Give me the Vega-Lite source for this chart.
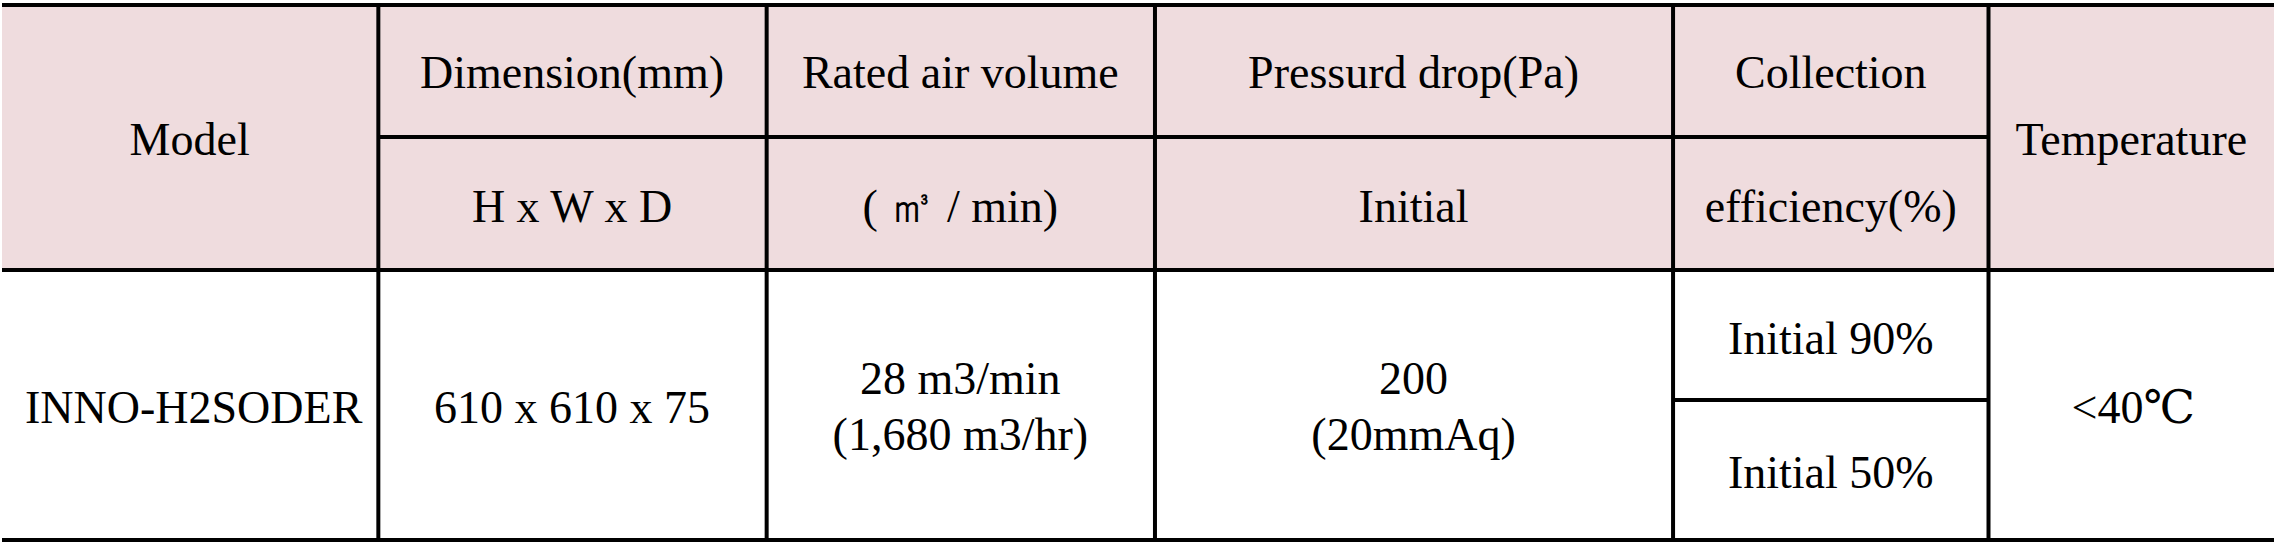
{
  "$schema": "https://vega.github.io/schema/vega-lite/v6.json",
  "width": 2276,
  "height": 548,
  "autosize": {"type": "fit", "contains": "padding"},
  "padding": 0,
  "background": "white",
  "datasets": {
    "cells": [
      {"x0": 0, "x1": 377, "y0": 5, "y1": 270},
      {"x0": 377, "x1": 766, "y0": 5, "y1": 270},
      {"x0": 766, "x1": 1155, "y0": 5, "y1": 270},
      {"x0": 1155, "x1": 1674, "y0": 5, "y1": 270},
      {"x0": 1674, "x1": 1990, "y0": 5, "y1": 270},
      {"x0": 1990, "x1": 2276, "y0": 5, "y1": 270}
    ],
    "labels": [
      {"label": "Model", "x": 188, "y": 141},
      {"label": "Dimension(mm)", "x": 571, "y": 74},
      {"label": "H x W x D", "x": 571, "y": 208},
      {"label": "Rated air volume", "x": 960, "y": 74},
      {"label": "( ㎥ / min)", "x": 960, "y": 208},
      {"label": "Pressurd drop(Pa)", "x": 1414, "y": 74},
      {"label": "Initial", "x": 1414, "y": 208},
      {"label": "Collection", "x": 1832, "y": 74},
      {"label": "efficiency(%)", "x": 1832, "y": 208},
      {"label": "Temperature", "x": 2133, "y": 141},
      {"label": "INNO-H2SODER", "x": 192, "y": 409},
      {"label": "610 x 610 x 75", "x": 571, "y": 409},
      {"label": "28 m3/min", "x": 960, "y": 380},
      {"label": "(1,680 m3/hr)", "x": 960, "y": 436},
      {"label": "200", "x": 1414, "y": 380},
      {"label": "(20mmAq)", "x": 1414, "y": 436},
      {"label": "Initial 90%", "x": 1832, "y": 340},
      {"label": "Initial 50%", "x": 1832, "y": 474},
      {"label": "<40℃", "x": 2135, "y": 409}
    ],
    "hlines": [
      {"x0": 0, "x1": 2276, "y": 5},
      {"x0": 377, "x1": 1990, "y": 137},
      {"x0": 0, "x1": 2276, "y": 270},
      {"x0": 1674, "x1": 1990, "y": 400},
      {"x0": 0, "x1": 2276, "y": 540}
    ],
    "vlines": [
      {"x": 377, "y0": 5, "y1": 540},
      {"x": 766, "y0": 5, "y1": 540},
      {"x": 1155, "y0": 5, "y1": 540},
      {"x": 1674, "y0": 5, "y1": 540},
      {"x": 1990, "y0": 5, "y1": 540}
    ]
  },
  "layer": [
    {
      "data": {"name": "cells"},
      "mark": {"type": "rect", "color": "#EFDCDE"},
      "encoding": {
        "x": {"field": "x0", "type": "quantitative", "scale": {"domain": [0, 2276], "nice": false, "zero": false}, "axis": null},
        "x2": {"field": "x1"},
        "y": {"field": "y0", "type": "quantitative", "scale": {"domain": [0, 548], "nice": false, "zero": false, "reverse": true}, "axis": null},
        "y2": {"field": "y1"}
      }
    },
    {
      "data": {"name": "hlines"},
      "mark": {"type": "rule", "color": "black", "strokeWidth": 4},
      "encoding": {
        "x": {"field": "x0", "type": "quantitative"},
        "x2": {"field": "x1"},
        "y": {"field": "y", "type": "quantitative"}
      }
    },
    {
      "data": {"name": "vlines"},
      "mark": {"type": "rule", "color": "black", "strokeWidth": 4},
      "encoding": {
        "x": {"field": "x", "type": "quantitative"},
        "y": {"field": "y0", "type": "quantitative"},
        "y2": {"field": "y1"}
      }
    },
    {
      "data": {"name": "labels"},
      "mark": {"type": "text", "font": "Liberation Serif, DejaVu Serif, serif", "fontSize": 46, "color": "black", "align": "center", "baseline": "middle"},
      "encoding": {
        "x": {"field": "x", "type": "quantitative"},
        "y": {"field": "y", "type": "quantitative"},
        "text": {"field": "label"}
      }
    }
  ],
  "config": {"view": {"stroke": null}}
}
